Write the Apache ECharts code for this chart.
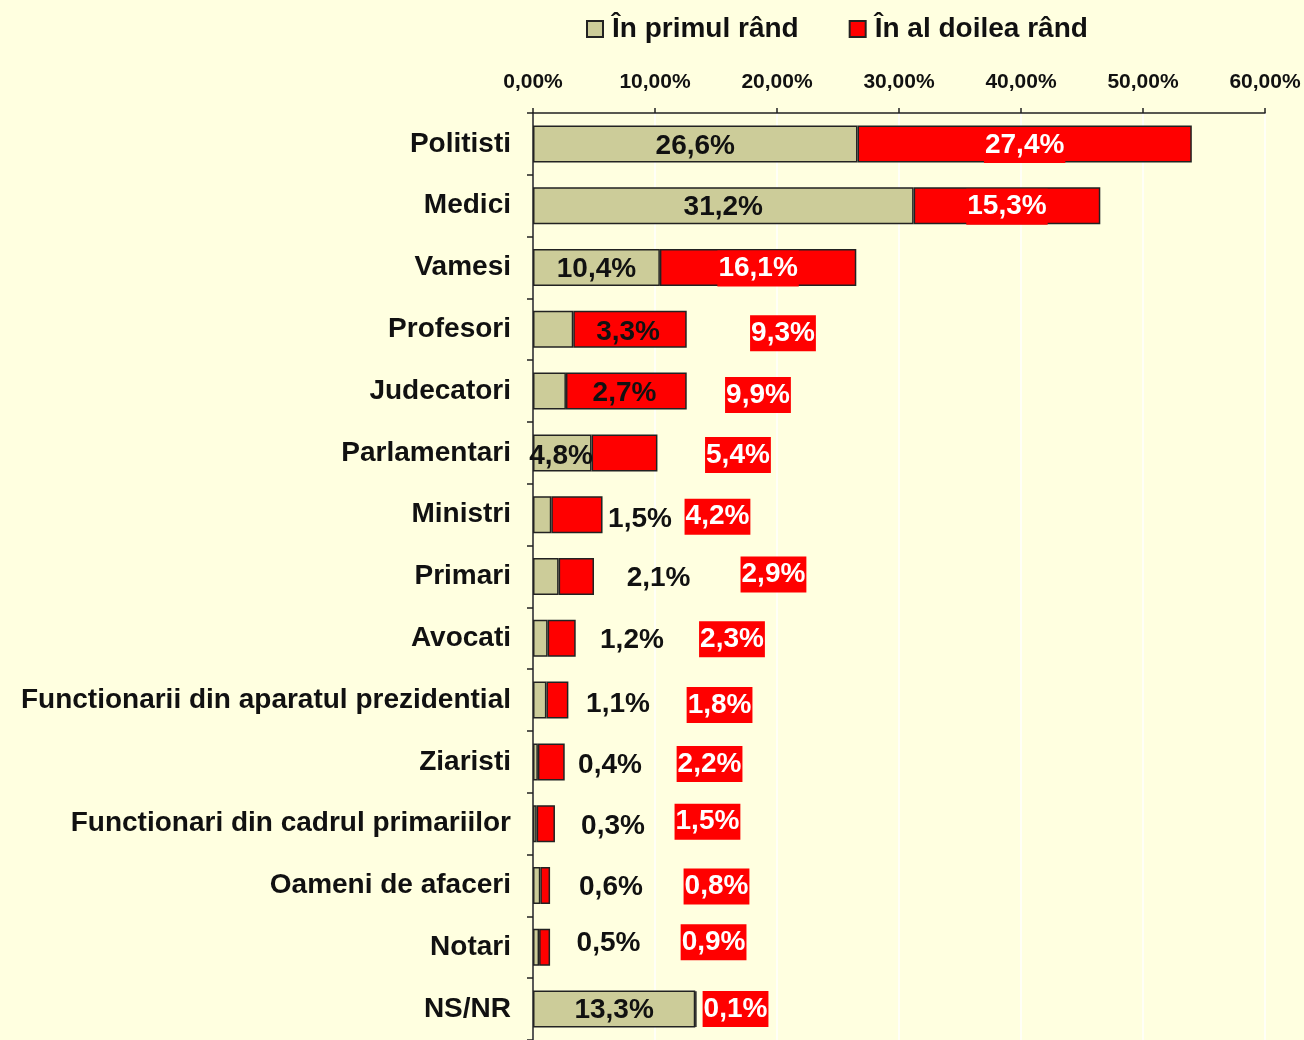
<!DOCTYPE html>
<html>
<head>
<meta charset="utf-8">
<script src="https://cdn.jsdelivr.net/npm/echarts@6/dist/echarts.min.js"></script>
<style>
  html, body { margin: 0; padding: 0; background: #FFFFE0; }
  #chart { width: 1304px; height: 1040px; }
</style>
</head>
<body>
<div id="chart"></div>
<script>
// date
const categories = ['Politisti', 'Medici', 'Vamesi', 'Profesori', 'Judecatori', 'Parlamentari', 'Ministri',
  'Primari', 'Avocati', 'Functionarii din aparatul prezidential', 'Ziaristi',
  'Functionari din cadrul primariilor', 'Oameni de afaceri', 'Notari', 'NS/NR'];
const primulRand = [26.6, 31.2, 10.4, 3.3, 2.7, 4.8, 1.5, 2.1, 1.2, 1.1, 0.4, 0.3, 0.6, 0.5, 13.3];
const alDoileaRand = [27.4, 15.3, 16.1, 9.3, 9.9, 5.4, 4.2, 2.9, 2.3, 1.8, 2.2, 1.5, 0.8, 0.9, 0.1];
const seriesNames = ['În primul rând', 'În al doilea rând'];

// pozitia etichetelor (in unitati ale axei, null = centrul segmentului) - mutate manual ca in original
const primulLabelX = [null, null, null, 7.79, 7.5, 2.3, 8.77, 10.29, 8.11, 6.97, 6.31, 6.56, 6.39, 6.19, null];
const doileaLabelX = [null, null, null, 20.49, 18.44, 16.8, 15.12, 19.71, 16.31, 15.29, 14.47, 14.3, 15.04, 14.8, 16.6];
const primulLabelDy = [0, 0, 0, 1, 0, 1, 3, 0, 0, 2, 1, 1, 0, -6, -1];
const doileaLabelDy = [0, 0, 0, 3, 3, 1, 1, -3, 0, 4, 1, -3, 0, -6, -1];

const FONT = 'Arial, "Liberation Sans", sans-serif';
const GRID_LEFT = 533, GRID_RIGHT = 39, X_MAX = 60;
const pxPerUnit = (1304 - GRID_LEFT - GRID_RIGHT) / X_MAX;

const fmt = v => v.toFixed(1).replace('.', ',') + '%';

const grayData = primulRand.map((v, i) => {
  const c = v / 2;
  const lx = primulLabelX[i] == null ? c : primulLabelX[i];
  return { value: v, label: { offset: [(lx - c) * pxPerUnit, primulLabelDy[i] + 2] } };
});
const redData = alDoileaRand.map((v, i) => {
  const c = primulRand[i] + v / 2;
  const lx = doileaLabelX[i] == null ? c : doileaLabelX[i];
  return { value: v, label: { offset: [(lx - c) * pxPerUnit, doileaLabelDy[i] + 1] } };
});

const chart = echarts.init(document.getElementById('chart'));
chart.setOption({
  backgroundColor: '#FFFFE0',
  animation: false,
  textStyle: { fontFamily: FONT },
  legend: {
    top: 10,
    left: 581,
    itemWidth: 16,
    itemHeight: 16,
    itemGap: 50,
    icon: 'rect',
    textStyle: { fontSize: 28, fontWeight: 'bold', color: '#111', fontFamily: FONT, padding: [0, 0, 0, 4] },
    data: seriesNames
  },
  grid: { left: GRID_LEFT, right: GRID_RIGHT, top: 113, height: 932 },
  xAxis: {
    type: 'value',
    position: 'top',
    min: 0,
    max: X_MAX,
    interval: 10,
    axisLine: { show: true, lineStyle: { color: '#222', width: 1.5 } },
    axisTick: { show: true, length: 5, lineStyle: { color: '#222', width: 1.5 } },
    axisLabel: {
      margin: 20, fontSize: 21, fontWeight: 'bold', color: '#111', fontFamily: FONT,
      formatter: v => v.toFixed(2).replace('.', ',') + '%'
    },
    splitLine: { show: true, lineStyle: { color: '#FFFFFF', width: 1.5 } }
  },
  yAxis: {
    type: 'category',
    inverse: true,
    data: categories,
    axisLine: { show: true, lineStyle: { color: '#222', width: 1.5 } },
    axisTick: { show: true, length: 6, lineStyle: { color: '#222', width: 1.5 } },
    axisLabel: {
      margin: 22, fontSize: 28, fontWeight: 'bold', color: '#111', fontFamily: FONT,
      padding: [5, 0, 0, 0]
    }
  },
  series: [
    {
      name: seriesNames[0],
      type: 'bar',
      stack: 'total',
      barWidth: 37,
      itemStyle: { color: '#CCCC99', borderColor: '#222', borderWidth: 1.5 },
      label: {
        show: true, position: 'inside', fontSize: 28, fontWeight: 'bold', color: '#111',
        fontFamily: FONT, formatter: p => fmt(p.value)
      },
      data: grayData
    },
    {
      name: seriesNames[1],
      type: 'bar',
      stack: 'total',
      barWidth: 37,
      itemStyle: { color: '#FF0000', borderColor: '#222', borderWidth: 1.5 },
      label: {
        show: true, position: 'inside', fontSize: 28, fontWeight: 'bold', color: '#FFFFFF',
        fontFamily: FONT, backgroundColor: '#FF0000', padding: [4, 1, 4, 1],
        formatter: p => fmt(p.value)
      },
      data: redData
    }
  ]
});
</script>
</body>
</html>
